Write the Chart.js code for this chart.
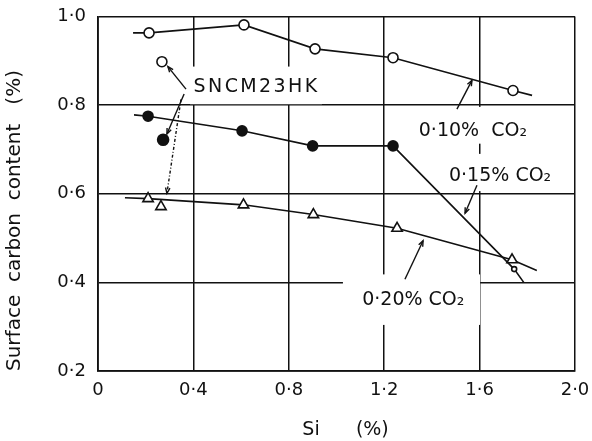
<!DOCTYPE html>
<html>
<head>
<meta charset="utf-8">
<style>
  html, body { margin: 0; padding: 0; background: #fff; }
  #wrap { width: 592px; height: 441px; }
</style>
<script src="https://cdn.jsdelivr.net/npm/chart.js@4.4.1/dist/chart.umd.min.js"></script>
</head>
<body>
<div id="wrap"><canvas id="c" width="592" height="441"></canvas></div>
<script>
// Si content (%) and surface carbon content (%) for each carburizing atmosphere
const si010 = [0.214, 0.612, 0.910, 1.237, 1.740];
const c010  = [0.963, 0.981, 0.927, 0.907, 0.833];
const si015 = [0.210, 0.604, 0.900, 1.237, 1.745];
const c015  = [0.775, 0.742, 0.708, 0.708, 0.430];
const si020 = [0.210, 0.610, 0.903, 1.254, 1.736];
const c020  = [0.589, 0.575, 0.553, 0.522, 0.451];

// SNCM23HK steel, one point per atmosphere (0.10, 0.15, 0.20 % CO2)
const siSNCM = [0.268, 0.273, 0.264];
const cSNCM  = [0.898, 0.722, 0.571];

// Where each fitted line begins and ends
const line010Ends = [[0.147, 0.963], [1.820, 0.822]];
const line015Ends = [[0.151, 0.778], [1.785, 0.400]];
const line020Ends = [[0.113, 0.591], [1.840, 0.427]];

// Axis ticks
const xTicks = [0, 0.4, 0.8, 1.2, 1.6, 2.0];
const yTicks = [0.2, 0.4, 0.6, 0.8, 1.0];

const pts = (xs, ys) => xs.map((x, i) => ({ x, y: ys[i] }));
const withEnds = (xs, ys, ends) => [{ x: ends[0][0], y: ends[0][1] }, ...pts(xs, ys), { x: ends[1][0], y: ends[1][1] }];
const fmt = v => (Math.abs(v) < 1e-9 ? '0' : v.toFixed(1).replace('.', '·'));

const INK = '#111';
const FONT = "'DejaVu Sans', sans-serif";

// Callout labels, their white backing boxes and pointer lines (data units)
const callouts = [
  { text: '0·10%  CO₂', x: 1.572, y: 0.742, box: [1.308, 1.841, 0.796, 0.713] },
  { text: '0·15% CO₂',  x: 1.686, y: 0.639, box: [1.421, 1.946, 0.690, 0.606] },
  { text: '0·20% CO₂',  x: 1.322, y: 0.360, box: [1.027, 1.602, 0.418, 0.304] },
  { text: 'SNCM23HK',   x: 0.665, y: 0.840, box: [0.386, 0.939, 0.887, 0.802], spacing: 2.4 }
];
const pointers = [
  { from: [1.505, 0.791], to: [1.568, 0.856] },
  { from: [1.589, 0.619], to: [1.539, 0.556] },
  { from: [1.287, 0.407], to: [1.363, 0.494] },
  { from: [0.369, 0.836], to: [0.293, 0.887] },
  { from: [0.361, 0.825], to: [0.289, 0.735] },
  { from: [0.348, 0.813], to: [0.289, 0.601], dash: [3, 2, 1, 2] }
];

const calloutPlugin = {
  id: 'callouts',
  beforeDatasetsDraw(chart) {
    const { ctx, scales: { x, y } } = chart;
    ctx.save();
    ctx.fillStyle = '#fff';
    callouts.forEach(c => {
      const x0 = x.getPixelForValue(c.box[0]), x1 = x.getPixelForValue(c.box[1]);
      const y0 = y.getPixelForValue(c.box[2]), y1 = y.getPixelForValue(c.box[3]);
      ctx.fillRect(x0, y0, x1 - x0, y1 - y0);
    });
    ctx.restore();
  },
  afterDatasetsDraw(chart) {
    const { ctx, scales: { x, y } } = chart;
    ctx.save();
    ctx.strokeStyle = INK;
    ctx.lineWidth = 1.4;
    pointers.forEach(p => {
      const ax = x.getPixelForValue(p.from[0]), ay = y.getPixelForValue(p.from[1]);
      const bx = x.getPixelForValue(p.to[0]), by = y.getPixelForValue(p.to[1]);
      ctx.setLineDash(p.dash || []);
      ctx.beginPath(); ctx.moveTo(ax, ay); ctx.lineTo(bx, by); ctx.stroke();
      ctx.setLineDash([]);
      const ang = Math.atan2(by - ay, bx - ax), h = 6, spread = 0.38;
      ctx.beginPath();
      ctx.moveTo(bx - h * Math.cos(ang - spread), by - h * Math.sin(ang - spread));
      ctx.lineTo(bx, by);
      ctx.lineTo(bx - h * Math.cos(ang + spread), by - h * Math.sin(ang + spread));
      ctx.stroke();
    });
    ctx.fillStyle = INK;
    ctx.textAlign = 'center';
    ctx.textBaseline = 'middle';
    callouts.forEach(c => {
      ctx.font = `19px ${FONT}`;
      ctx.letterSpacing = (c.spacing || 0) + 'px';
      ctx.fillText(c.text, x.getPixelForValue(c.x), y.getPixelForValue(c.y));
    });
    ctx.restore();
  }
};

const markerBase = { showLine: false, borderColor: INK, borderWidth: 1.6, pointHoverRadius: 0 };
const lineBase = { showLine: true, borderColor: INK, borderWidth: 1.6, pointRadius: 0, pointHoverRadius: 0, fill: false, tension: 0 };

new Chart(document.getElementById('c'), {
  type: 'scatter',
  data: {
    datasets: [
      { ...markerBase, label: '0.10% CO2', data: pts(si010, c010), pointStyle: 'circle', pointRadius: 5, backgroundColor: '#fff' },
      { ...markerBase, label: '0.15% CO2', data: pts(si015, c015), pointStyle: 'circle',
        pointRadius: [5, 5, 5, 5, 2.5], backgroundColor: [INK, INK, INK, INK, '#fff'] },
      { ...markerBase, label: '0.20% CO2', data: pts(si020, c020), pointStyle: 'triangle', pointRadius: 6, backgroundColor: '#fff' },
      { ...markerBase, label: 'SNCM23HK 0.10', data: [{ x: siSNCM[0], y: cSNCM[0] }], pointStyle: 'circle', pointRadius: 5, backgroundColor: '#fff' },
      { ...markerBase, label: 'SNCM23HK 0.15', data: [{ x: siSNCM[1], y: cSNCM[1] }], pointStyle: 'circle', pointRadius: 5.5, backgroundColor: INK },
      { ...markerBase, label: 'SNCM23HK 0.20', data: [{ x: siSNCM[2], y: cSNCM[2] }], pointStyle: 'triangle', pointRadius: 6, backgroundColor: '#fff' },
      { ...lineBase, label: '0.10 line', data: withEnds(si010, c010, line010Ends) },
      { ...lineBase, label: '0.15 line', data: withEnds(si015, c015, line015Ends) },
      { ...lineBase, label: '0.20 line', data: withEnds(si020, c020, line020Ends) }
    ]
  },
  options: {
    responsive: false,
    animation: false,
    events: [],
    layout: { padding: { top: 16.5, right: 17, bottom: 0, left: 0 } },
    plugins: { legend: { display: false }, tooltip: { enabled: false } },
    scales: {
      x: {
        type: 'linear', min: 0, max: 2.0,
        afterBuildTicks: s => { s.ticks = xTicks.map(v => ({ value: v })); },
        afterFit: s => { s.height = 70; s.paddingLeft = 0; s.paddingRight = 0; },
        ticks: { color: INK, font: { family: FONT, size: 18 }, padding: 9, maxRotation: 0, callback: v => fmt(v) },
        grid: { color: INK, lineWidth: 1.5, drawTicks: false },
        border: { color: INK, width: 1.8 },
        title: { display: true, text: '   Si      (%)', color: INK, font: { family: FONT, size: 19 }, padding: { top: 0, bottom: 0 } }
      },
      y: {
        type: 'linear', min: 0.2, max: 1.0,
        afterBuildTicks: s => { s.ticks = yTicks.map(v => ({ value: v })); },
        afterFit: s => { s.width = 98; s.paddingTop = 0; s.paddingBottom = 0; },
        ticks: { color: INK, font: { family: FONT, size: 18 }, padding: 12, callback: v => fmt(v) },
        grid: { color: INK, lineWidth: 1.5, drawTicks: false },
        border: { color: INK, width: 1.8 },
        title: { display: true, text: 'Surface  carbon  content   (%)', align: 'start', color: INK, font: { family: FONT, size: 20 }, padding: { top: 3, bottom: 6 } }
      }
    }
  },
  plugins: [calloutPlugin]
});
</script>
</body>
</html>
